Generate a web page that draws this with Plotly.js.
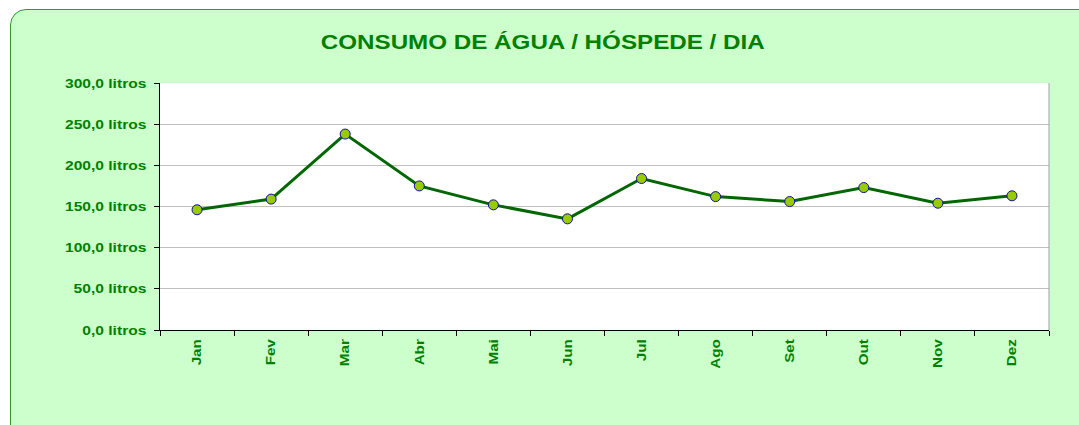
<!DOCTYPE html>
<html>
<head>
<meta charset="utf-8">
<script src="https://cdn.plot.ly/plotly-3.0.1.min.js"></script>
<style>
  html, body { margin: 0; padding: 0; background: #ffffff; width: 1079px; height: 425px; overflow: hidden; }
  #frame { position: absolute; left: 10px; top: 9px; width: 1090px; height: 440px; background: #CCFFCC; border: 1px solid #2E9A2E; border-radius: 16px; }
  #chart { position: absolute; left: 0; top: 0; width: 1079px; height: 425px; }
</style>
</head>
<body>
<div id="frame"></div>
<div id="chart"></div>
<script>
const months = ["Jan","Fev","Mar","Abr","Mai","Jun","Jul","Ago","Set","Out","Nov","Dez"];
const consumo = [146, 159, 238, 175, 152, 135, 184, 162, 156, 173, 154, 163];
const yTicks = [0, 50, 100, 150, 200, 250, 300];
const yTickText = ["0,0 litros","50,0 litros","100,0 litros","150,0 litros","200,0 litros","250,0 litros","300,0 litros"];

const green = "#008000";
const font = "Arial, 'Liberation Sans', sans-serif";

const trace = {
  x: months,
  y: consumo,
  type: "scatter",
  mode: "lines+markers",
  line: { color: "#006600", width: 3 },
  marker: { color: "#99CC00", size: 10, line: { color: "#1010A0", width: 1 } },
  hoverinfo: "skip"
};

const layout = {
  width: 1079,
  height: 425,
  margin: { l: 160, r: 30, t: 83, b: 95 },
  paper_bgcolor: "rgba(0,0,0,0)",
  plot_bgcolor: "#ffffff",
  showlegend: false,
  title: {
    text: "<b>CONSUMO DE ÁGUA / HÓSPEDE / DIA</b>",
    font: { family: font, size: 20, color: green },
    x: 0.503, xanchor: "center", y: 0.902, yanchor: "middle"
  },
  xaxis: {
    type: "category",
    range: [-0.5, 11.5],
    showline: true, linecolor: "#000000", linewidth: 1,
    ticks: "outside", ticklen: 5, tickcolor: "#000000", tickson: "boundaries",
    tickangle: -90,
    ticklabelstandoff: 3,
    tickfont: { family: font, size: 13, color: green, weight: "bold" },
    showgrid: false, zeroline: false, fixedrange: true
  },
  yaxis: {
    range: [0, 300],
    tickmode: "array",
    tickvals: yTicks,
    ticktext: yTickText,
    showline: true, linecolor: "#000000", linewidth: 1,
    ticks: "outside", ticklen: 5, tickcolor: "#000000",
    ticklabelstandoff: 5,
    tickfont: { family: font, size: 13, color: green, weight: "bold" },
    showgrid: true, gridcolor: "#C0C0C0", gridwidth: 1,
    zeroline: false, fixedrange: true
  },
  shapes: [
    { type: "line", xref: "paper", yref: "paper", x0: 1, x1: 1, y0: 0, y1: 1,
      line: { color: "#A0A0A0", width: 1 } }
  ]
};

// The reference text is drawn slightly wide; stretch the real SVG text along its own baseline.
function stretchText(gd, selector, factor) {
  gd.querySelectorAll(selector).forEach(t => {
    const x = parseFloat(t.getAttribute("x")) || 0;
    const y = parseFloat(t.getAttribute("y")) || 0;
    const tr = t.getAttribute("transform") || "";
    t.setAttribute("transform", tr + ` translate(${x},${y}) scale(${factor},1) translate(${-x},${-y})`);
  });
}

Plotly.newPlot("chart", [trace], layout, { displayModeBar: false, staticPlot: true }).then(gd => {
  stretchText(gd, ".ytick text", 1.2);
  stretchText(gd, ".xtick text", 1.17);
  stretchText(gd, ".gtitle", 1.21);
});
</script>
</body>
</html>
